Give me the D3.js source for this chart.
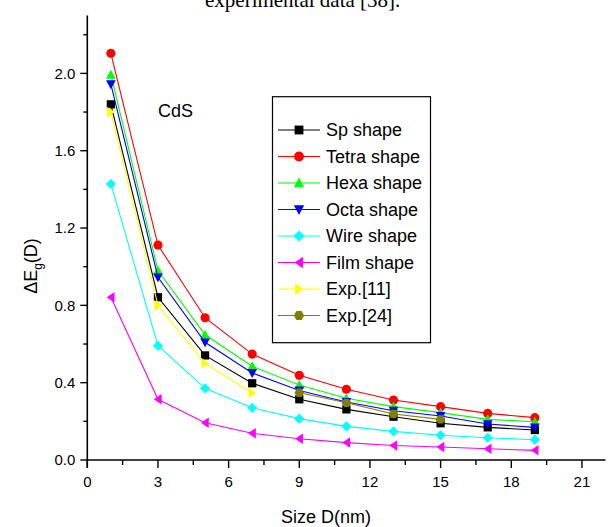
<!DOCTYPE html>
<html>
<head>
<meta charset="utf-8">
<script src="https://cdn.jsdelivr.net/npm/d3@7/dist/d3.min.js"></script>
<style>
  html, body { margin: 0; padding: 0; background: #fff; }
  svg { display: block; }
  text { font-family: "Liberation Sans", Arial, sans-serif; fill: #000; }
</style>
</head>
<body>
<svg id="chart" width="609" height="527"></svg>
<script>
// Band-gap shift of CdS nanostructures against size
const sizes = [1, 3, 5, 7, 9, 11, 13, 15, 17, 19];
const spShape    = [1.84, 0.842, 0.541, 0.397, 0.314, 0.262, 0.224, 0.19, 0.169, 0.155];
const tetraShape = [2.104, 1.112, 0.736, 0.548, 0.438, 0.366, 0.31, 0.276, 0.241, 0.219];
const hexaShape  = [1.993, 0.98, 0.648, 0.485, 0.388, 0.319, 0.276, 0.245, 0.21, 0.198];
const octaShape  = [1.944, 0.945, 0.609, 0.45, 0.36, 0.3, 0.255, 0.228, 0.186, 0.169];
const wireShape  = [1.428, 0.591, 0.371, 0.27, 0.214, 0.174, 0.148, 0.128, 0.115, 0.105];
const filmShape  = [0.842, 0.314, 0.193, 0.138, 0.11, 0.09, 0.075, 0.067, 0.058, 0.05];
const exp11Sizes = [1, 3, 5, 7];
const exp11      = [1.80, 0.80, 0.50, 0.348];
const exp24Sizes = [9, 11, 13, 15];
const exp24      = [0.348, 0.296, 0.238, 0.21];

const xTicks = [0, 3, 6, 9, 12, 15, 18, 21];
const yTicks = [0.0, 0.4, 0.8, 1.2, 1.6, 2.0];

const svg = d3.select("#chart");

// Marker shapes
const sq = { draw(c, s) { const r = Math.sqrt(s) / 2; c.rect(-r, -r, 2 * r, 2 * r); } };
const circ = { draw(c, s) { const r = Math.sqrt(s) / 2; c.moveTo(r, 0); c.arc(0, 0, r, 0, 2 * Math.PI); } };
const triUp = { draw(c, s) { const r = Math.sqrt(s) / 2; c.moveTo(0, -r * 1.1); c.lineTo(r * 1.05, r * 0.85); c.lineTo(-r * 1.05, r * 0.85); c.closePath(); } };
const triDown = { draw(c, s) { const r = Math.sqrt(s) / 2; c.moveTo(0, r * 1.1); c.lineTo(r * 1.05, -r * 0.85); c.lineTo(-r * 1.05, -r * 0.85); c.closePath(); } };
const diam = { draw(c, s) { const r = Math.sqrt(s) / 2 * 1.2; c.moveTo(0, -r); c.lineTo(r, 0); c.lineTo(0, r); c.lineTo(-r, 0); c.closePath(); } };
const triLeft = { draw(c, s) { const r = Math.sqrt(s) / 2; c.moveTo(-r * 0.9, 0); c.lineTo(r * 0.8, -r * 1.15); c.lineTo(r * 0.8, r * 1.15); c.closePath(); } };
const triRight = { draw(c, s) { const r = Math.sqrt(s) / 2; c.moveTo(r * 0.9, 0); c.lineTo(-r * 0.8, -r * 1.15); c.lineTo(-r * 0.8, r * 1.15); c.closePath(); } };
const hexa = { draw(c, s) { const r = Math.sqrt(s) / 2 * 1.1; for (let i = 0; i < 6; i++) { const a = Math.PI / 6 + i * Math.PI / 3 - Math.PI / 2; const px = r * Math.cos(a), py = r * Math.sin(a); i ? c.lineTo(px, py) : c.moveTo(px, py); } c.closePath(); } };

const series = [
  { name: "Sp shape",    xs: sizes,      ys: spShape,    color: "#000000", sym: sq,       size: 68 },
  { name: "Tetra shape", xs: sizes,      ys: tetraShape, color: "#ff0000", sym: circ,     size: 84 },
  { name: "Hexa shape",  xs: sizes,      ys: hexaShape,  color: "#00ff00", sym: triUp,    size: 84 },
  { name: "Octa shape",  xs: sizes,      ys: octaShape,  color: "#0000ff", sym: triDown,  size: 84 },
  { name: "Wire shape",  xs: sizes,      ys: wireShape,  color: "#00ffff", sym: diam,     size: 72 },
  { name: "Film shape",  xs: sizes,      ys: filmShape,  color: "#ff00ff", sym: triLeft,  size: 84 },
  { name: "Exp.[11]",    xs: exp11Sizes, ys: exp11,      color: "#ffff00", sym: triRight, size: 84 },
  { name: "Exp.[24]",    xs: exp24Sizes, ys: exp24,      color: "#808000", sym: hexa,     size: 76 }
];

const x = d3.scaleLinear().domain([0, 22]).range([87.3, 605.5]);
const y = d3.scaleLinear().domain([0, 2.3]).range([460, 15.4]);

// Caption fragment from the page above the figure
svg.append("text")
  .attr("x", 205).attr("y", 7)
  .style("font-family", "'Liberation Serif', 'Times New Roman', serif")
  .style("font-size", "21px")
  .text("experimental data [38].");

// Axes
const xMinor = d3.range(0, 22.01, 1.5);
const yMinor = d3.range(0, 2.301, 0.2);

const axX = svg.append("g").attr("transform", `translate(0,${y(0)})`);
axX.append("line").attr("x1", x(0)).attr("x2", x(22)).attr("stroke", "#000").attr("stroke-width", 1.6);
axX.selectAll("line.tk").data(xMinor).join("line").attr("class", "tk")
  .attr("x1", d => x(d)).attr("x2", d => x(d))
  .attr("y1", 0).attr("y2", d => (Math.abs(d / 3 - Math.round(d / 3)) < 1e-6 ? 8 : 5))
  .attr("stroke", "#000").attr("stroke-width", 1.4);
axX.selectAll("text").data(xTicks).join("text")
  .attr("x", d => x(d)).attr("y", 27)
  .attr("text-anchor", "middle")
  .style("font-size", "15px")
  .text(d => d);

const axY = svg.append("g").attr("transform", `translate(${x(0)},0)`);
axY.append("line").attr("y1", y(0) + 8).attr("y2", y(2.3)).attr("stroke", "#000").attr("stroke-width", 1.6);
axY.selectAll("line.tk").data(yMinor).join("line").attr("class", "tk")
  .attr("y1", d => y(d)).attr("y2", d => y(d))
  .attr("x1", 0).attr("x2", (d, i) => (i % 2 === 0 ? -7 : -4))
  .attr("stroke", "#000").attr("stroke-width", 1.4);
axY.selectAll("text").data(yTicks).join("text")
  .attr("x", -12).attr("y", d => y(d))
  .attr("dy", "0.35em")
  .attr("text-anchor", "end")
  .style("font-size", "15px")
  .text(d => d.toFixed(1));

// Axis titles
svg.append("text")
  .attr("x", 326).attr("y", 523)
  .attr("text-anchor", "middle")
  .style("font-size", "18px")
  .text("Size D(nm)");

const yt = svg.append("text")
  .attr("transform", "translate(37,266) rotate(-90)")
  .attr("text-anchor", "middle")
  .style("font-size", "18px");
yt.append("tspan").text("\u0394E");
yt.append("tspan").attr("dy", 5).style("font-size", "12px").text("g");
yt.append("tspan").attr("dy", -5).text("(D)");

// Series lines and markers
const line = d3.line().x(d => x(d[0])).y(d => y(d[1]));
series.forEach(s => {
  const pts = s.xs.map((v, i) => [v, s.ys[i]]);
  const g = svg.append("g");
  g.append("path").attr("d", line(pts)).attr("fill", "none").attr("stroke", s.color).attr("stroke-width", 1.1);
  g.selectAll("path.m").data(pts).join("path").attr("class", "m")
    .attr("transform", d => `translate(${x(d[0])},${y(d[1])})`)
    .attr("d", d3.symbol(s.sym, s.size))
    .attr("fill", s.color);
});

// Label
svg.append("text").attr("x", 158).attr("y", 117).style("font-size", "18px").text("CdS");

// Legend
const lg = svg.append("g");
lg.append("rect").attr("x", 272.5).attr("y", 96.7).attr("width", 158).attr("height", 246)
  .attr("fill", "#fff").attr("stroke", "#000").attr("stroke-width", 1.2);
series.forEach((s, i) => {
  const cy = 130 + i * 26.5;
  lg.append("line").attr("x1", 278).attr("x2", 320).attr("y1", cy).attr("y2", cy).attr("stroke", s.color).attr("stroke-width", 1.1);
  lg.append("path").attr("transform", `translate(299,${cy})`).attr("d", d3.symbol(s.sym, s.size * 1.15)).attr("fill", s.color);
  lg.append("text").attr("x", 326).attr("y", cy).attr("dy", "0.36em").style("font-size", "18px").text(s.name);
});
</script>
</body>
</html>
